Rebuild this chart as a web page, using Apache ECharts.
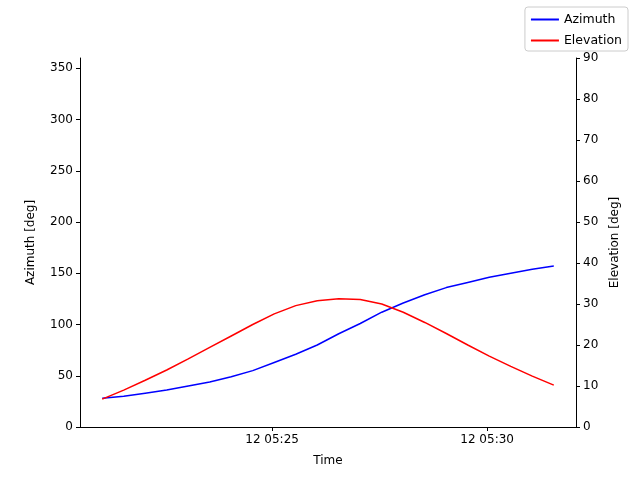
<!DOCTYPE html>
<html><head><meta charset="utf-8">
<script src="https://cdn.jsdelivr.net/npm/echarts@6/dist/echarts.min.js"></script>
<style>html,body{margin:0;padding:0;background:#fff}#c{width:640px;height:480px}</style>
</head><body><div id="c"></div>
<script>
// times in seconds since 00:00 on day 12
const startSeconds = 5*3600 + 21*60 + 3;
const stepSeconds = 30;
const azimuth = [28,30,33,36,40,44,49,55,63,71,80,91,101,112,121,129,136,141,146,150,154,157];
const elevation = [6.8,9.0,11.4,13.9,16.6,19.4,22.2,25.0,27.6,29.6,30.8,31.3,31.1,30.0,28.0,25.5,22.8,20.0,17.3,14.8,12.4,10.2];
const tickSeconds = [5*3600+25*60, 5*3600+30*60];
const times = azimuth.map((_, i) => startSeconds + i * stepSeconds);
const pad = n => String(n).padStart(2,'0');
const fmt = v => '12 ' + pad(Math.floor(v/3600)) + ':' + pad(Math.floor((v%3600)/60));
const font = 'DejaVu Sans';
const ax = {color:'#000',fontFamily:font,fontSize:12};
const chart = echarts.init(document.getElementById('c'));
chart.setOption({
  animation:false,
  textStyle:{fontFamily:font},
  legend:{orient:'vertical',right:12,top:7,itemWidth:28,itemHeight:2,itemGap:8,
    borderColor:'#ccc',borderWidth:1,borderRadius:3,padding:[6,6,4,6],
    textStyle:{fontFamily:font,fontSize:12.5,color:'#000'},
    data:[{name:'Azimuth',icon:'rect'},{name:'Elevation',icon:'rect'}]},
  grid:{left:80,right:64,top:58,bottom:53},
  xAxis:{type:'value',min:startSeconds-31,max:startSeconds+661,name:'Time',nameLocation:'middle',nameGap:28,
    nameTextStyle:ax,splitLine:{show:false},
    axisLine:{onZero:false,lineStyle:{color:'#000'}},
    axisTick:{customValues:tickSeconds,length:4,lineStyle:{color:'#000'}},
    axisLabel:{customValues:tickSeconds,formatter:fmt,color:'#000',fontFamily:font,fontSize:12,margin:7}},
  yAxis:[
    {type:'value',min:0,max:360,interval:50,name:'Azimuth [deg]',nameLocation:'middle',nameGap:43,nameRotate:90,nameTextStyle:ax,
     splitLine:{show:false},axisLine:{show:true,lineStyle:{color:'#000'}},axisTick:{show:true,length:4,lineStyle:{color:'#000'}},
     axisLabel:{color:'#000',fontFamily:font,fontSize:12,margin:7,showMaxLabel:false}},
    {type:'value',min:0,max:90,interval:10,name:'Elevation [deg]',nameLocation:'middle',nameGap:33,nameRotate:90,nameTextStyle:ax,
     splitLine:{show:false},axisLine:{show:true,lineStyle:{color:'#000'}},axisTick:{show:true,length:4,lineStyle:{color:'#000'}},
     axisLabel:{color:'#000',fontFamily:font,fontSize:12,margin:7}}
  ],
  series:[
    {name:'Azimuth',type:'line',yAxisIndex:0,showSymbol:false,color:'#0000ff',lineStyle:{width:1.5},data:times.map((t,i)=>[t,azimuth[i]])},
    {name:'Elevation',type:'line',yAxisIndex:1,showSymbol:false,color:'#ff0000',lineStyle:{width:1.5},data:times.map((t,i)=>[t,elevation[i]])}
  ]
});
</script></body></html>
